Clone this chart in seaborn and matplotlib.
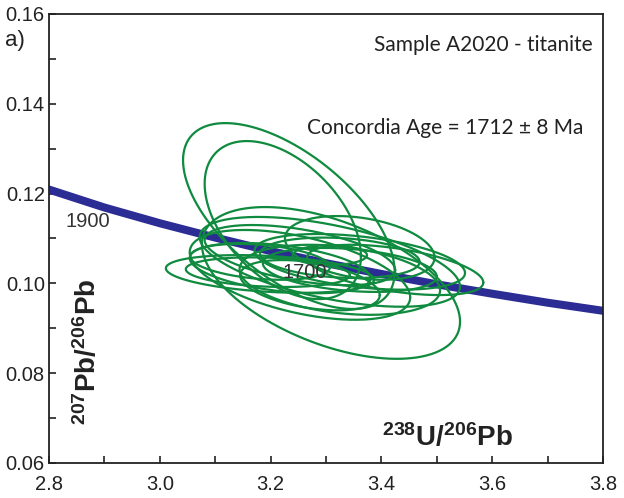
import numpy as np
import pandas as pd
import matplotlib
matplotlib.use('Agg')
import matplotlib.pyplot as plt
import seaborn as sns

# concordia curve (Tera-Wasserburg)
conc_x = [2.8, 2.9, 3.0, 3.1, 3.2, 3.3, 3.4, 3.5, 3.6, 3.7, 3.8]
conc_y = [0.1209, 0.1169, 0.1134, 0.1102, 0.1072, 0.1045, 0.1021, 0.0998, 0.0977, 0.0957, 0.0939]

# age labels on the concordia
age_labels = ['1900', '1700']
age_x = [2.829, 3.222]
age_y = [0.1137, 0.1025]

# error ellipses: centre, half widths, correlation
ell_cx = [3.233, 3.222, 3.199, 3.195, 3.253, 3.307, 3.309, 3.253, 3.361,
          3.425, 3.307, 3.325, 3.181, 3.361, 3.271, 3.217, 3.325, 3.343]
ell_cy = [0.1150, 0.1141, 0.1021, 0.1025, 0.1063, 0.1048, 0.1001, 0.1019, 0.1048,
          0.1030, 0.1063, 0.1057, 0.1048, 0.1079, 0.0996, 0.1034, 0.1008, 0.1030]
ell_sx = [0.191, 0.141, 0.188, 0.148, 0.172, 0.235, 0.233, 0.199, 0.190,
          0.159, 0.067, 0.144, 0.126, 0.135, 0.126, 0.163, 0.181, 0.157]
ell_sy = [0.0207, 0.0176, 0.0042, 0.0033, 0.0067, 0.0100, 0.0169, 0.0100, 0.0062,
          0.0056, 0.0022, 0.0045, 0.0040, 0.0071, 0.0056, 0.0056, 0.0078, 0.0049]
ell_rho = [-0.60, -0.46, -0.30, -0.20, -0.50, -0.55, -0.51, -0.50, -0.40,
           -0.50, 0.00, -0.20, -0.30, -0.30, -0.40, -0.40, -0.30, -0.30]

# outline of each ellipse
t = np.linspace(0, 2 * np.pi, 241)
rows = []
for i in range(len(ell_cx)):
    ex = ell_cx[i] + ell_sx[i] * np.cos(t)
    ey = ell_cy[i] + ell_sy[i] * (ell_rho[i] * np.cos(t) + np.sqrt(1 - ell_rho[i] ** 2) * np.sin(t))
    rows.append(pd.DataFrame({'x': ex, 'y': ey, 'id': i}))
ellipses = pd.concat(rows, ignore_index=True)
concordia = pd.DataFrame({'x': conc_x, 'y': conc_y})

sns.set_theme(style='ticks')
plt.rcParams['font.family'] = ['Liberation Sans', 'DejaVu Sans']
plt.rcParams['mathtext.default'] = 'regular'

fig = plt.figure(figsize=(6.24, 4.98), dpi=100)
ax = fig.add_axes([0.0785, 0.0703, 0.8878, 0.9016])

sns.lineplot(data=concordia, x='x', y='y', sort=False, color='#2c2d94',
             linewidth=5.8, ax=ax, zorder=2)
sns.lineplot(data=ellipses, x='x', y='y', units='id', estimator=None, sort=False,
             color='#0f8a3e', linewidth=1.6, ax=ax, zorder=3)

for lab, lx, ly in zip(age_labels, age_x, age_y):
    ax.text(lx, ly, lab, fontsize=14.5, color='#333333', ha='left', va='center', zorder=4)

ax.text(3.782, 0.1531, 'Sample A2020 - titanite', fontsize=15, family='Lato',
        color='#222222', ha='right', va='center')
ax.text(3.764, 0.1346, 'Concordia Age = 1712 \u00b1 8 Ma', fontsize=15, family='Lato',
        color='#222222', ha='right', va='center')

# axis titles sit inside the frame
ax.text(3.519, 0.0656, r'$^{238}$U/$^{206}$Pb', fontsize=20, fontweight='bold',
        color='#222222', ha='center', va='center')
ax.text(2.870, 0.0847, r'$^{207}$Pb/$^{206}$Pb', fontsize=20, fontweight='bold',
        color='#222222', ha='center', va='center', rotation=90)
ax.set_xlabel('')
ax.set_ylabel('')

fig.text(0.008, 0.918, 'a)', fontsize=16, color='#222222', ha='left', va='center')

ax.set_xlim(2.8, 3.8)
ax.set_ylim(0.06, 0.16)
ax.set_xticks(np.arange(2.8, 3.81, 0.2))
ax.set_xticks(np.arange(2.9, 3.8, 0.2), minor=True)
ax.set_yticks(np.arange(0.06, 0.161, 0.02))
ax.set_yticks(np.arange(0.07, 0.16, 0.02), minor=True)
ax.set_xticklabels(['2.8', '3.0', '3.2', '3.4', '3.6', '3.8'])
ax.set_yticklabels(['0.06', '0.08', '0.10', '0.12', '0.14', '0.16'])
ax.tick_params(which='both', direction='in', length=5, width=1.2, color='#222222',
               labelsize=14.5, labelcolor='#222222')
ax.tick_params(axis='x', which='major', pad=9)
ax.tick_params(axis='y', which='major', pad=3)
for s in ax.spines.values():
    s.set_linewidth(1.3)
    s.set_color('#222222')

plt.savefig('out.png', dpi=100)
